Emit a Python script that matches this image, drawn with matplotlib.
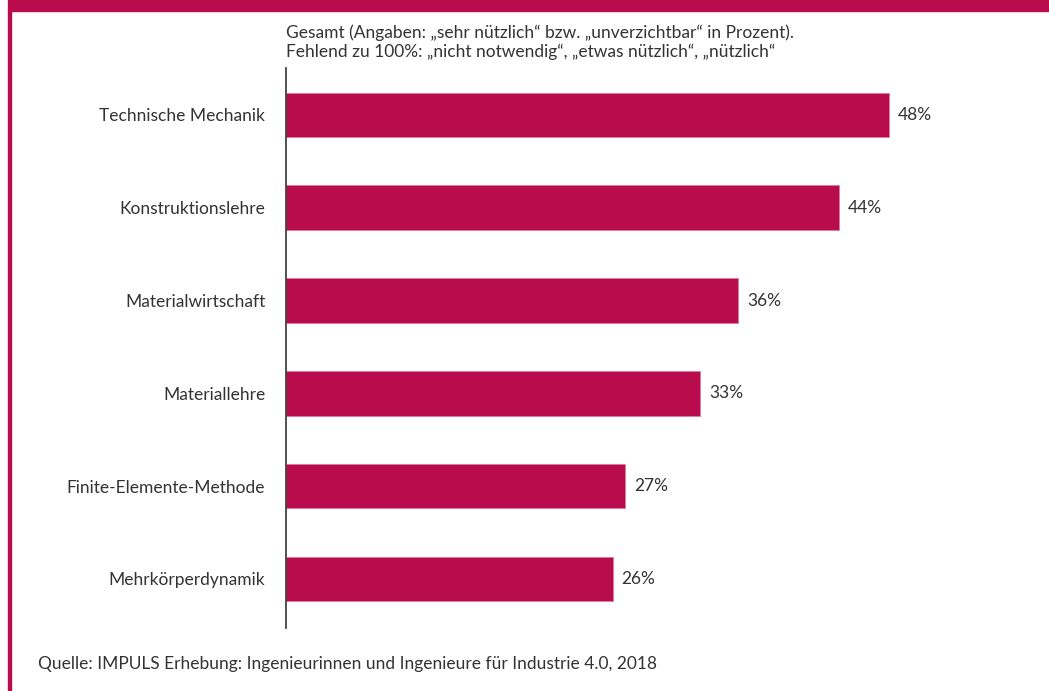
import matplotlib.pyplot as plt
from matplotlib.patches import Rectangle

# Umfrageergebnis: "sehr nützlich" bzw. "unverzichtbar" in Prozent
faecher = ["Technische Mechanik", "Konstruktionslehre", "Materialwirtschaft",
           "Materiallehre", "Finite-Elemente-Methode", "Mehrkörperdynamik"]
anteile = [48, 44, 36, 33, 27, 26]

rot = "#B90C4D"
text_farbe = "#333333"
plt.rcParams['font.family'] = ['Lato', 'DejaVu Sans']
fs = 12.5

W, H = 1049, 691
fig = plt.figure(figsize=(W / 100, H / 100), dpi=100)

# Rahmen: Kopfband und linker Rand
fig.patches.append(Rectangle((8 / W, 1 - 11 / H), 1 - 8 / W, 11 / H,
                             transform=fig.transFigure, color=rot, zorder=0))
fig.patches.append(Rectangle((8 / W, 0), 3 / W, 1 - 11 / H,
                             transform=fig.transFigure, color=rot, zorder=0))

ax_l, ax_r = 286 / W, (286 + 50 * 12.56) / W
ax_t, ax_b = 1 - 68 / H, 1 - 628 / H
ax = fig.add_axes([ax_l, ax_b, ax_r - ax_l, ax_t - ax_b])

y = list(range(len(faecher)))
ax.barh(y, anteile, height=0.48, color=rot, edgecolor="#e07a9f", linewidth=0.6)
for yi, v in zip(y, anteile):
    ax.text(v + 0.7, yi, f"{v}%", va="center", ha="left", fontsize=fs, color=text_farbe)

ax.set_xlim(0, 50)
ax.set_ylim(5.528, -0.506)
ax.set_yticks(y)
ax.set_yticklabels(faecher, fontsize=fs, color=text_farbe)
ax.tick_params(axis="y", length=0, pad=15)
ax.set_xticks([])
for s in ["top", "right", "bottom"]:
    ax.spines[s].set_visible(False)
ax.spines["left"].set_color(text_farbe)
ax.spines["left"].set_linewidth(1.2)

fig.text(286 / W, 1 - 33 / H,
         "Gesamt (Angaben: \u201esehr nützlich\u201c bzw. \u201eunverzichtbar\u201c in Prozent).",
         ha="left", va="center", fontsize=fs, color=text_farbe)
fig.text(286 / W, 1 - 52 / H,
         "Fehlend zu 100%: \u201enicht notwendig\u201c, \u201eetwas nützlich\u201c, \u201enützlich\u201c",
         ha="left", va="center", fontsize=fs, color=text_farbe)
fig.text(38 / W, 1 - 664 / H,
         "Quelle: IMPULS Erhebung: Ingenieurinnen und Ingenieure für Industrie 4.0, 2018",
         ha="left", va="center", fontsize=fs, color=text_farbe)

fig.savefig("out.png", dpi=100)
